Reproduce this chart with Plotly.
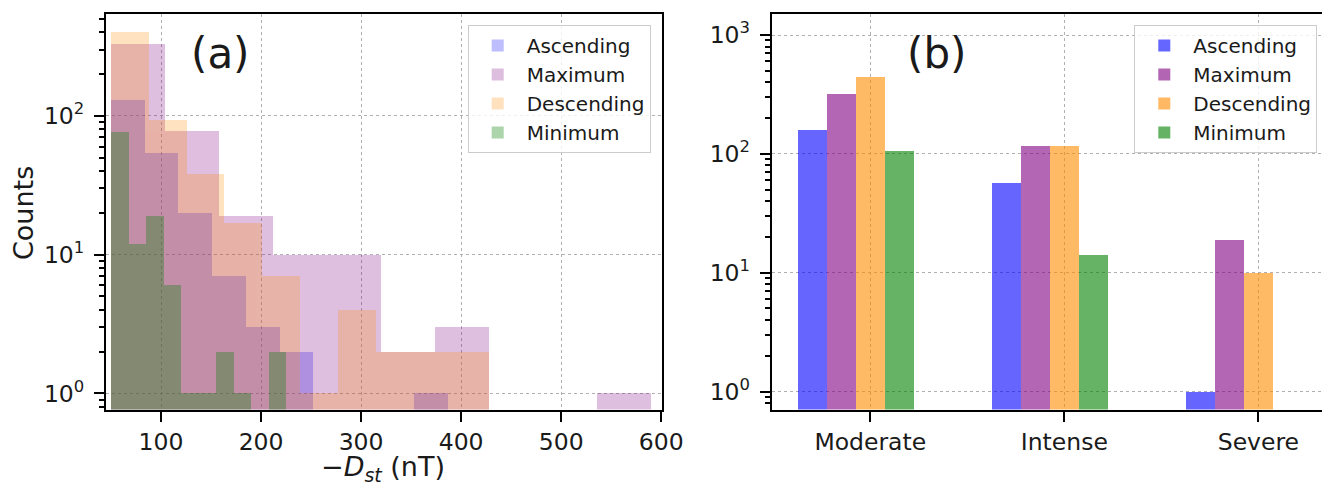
import plotly.graph_objects as go

# ---------------- data: panel (a) histograms ----------------
series_names = ["Ascending", "Maximum", "Descending", "Minimum"]

asc_edges = [50, 83.7, 117.4, 151.1, 184.8, 218.5, 252.2, 285.9, 319.6, 353.3, 387]
asc_counts = [130, 54, 20, 7, 3, 2, 0, 0, 0, 1]

max_edges = [50, 104, 158, 212, 266, 320, 374, 428, 482, 536, 590]
max_counts = [330, 78, 19, 10, 10, 2, 3, 0, 0, 1]

desc_edges = [50, 87.8, 125.6, 163.4, 201.2, 239, 276.8, 314.6, 352.4, 390.2, 428]
desc_counts = [400, 93, 38, 17, 7, 1, 4, 2, 2, 2]

min_edges = [50, 67.5, 85, 102.5, 120, 137.5, 155, 172.5, 190, 207.5, 225]
min_counts = [76, 12, 19, 6, 1, 1, 2, 1, 0, 2]

# ---------------- data: panel (b) grouped bars ----------------
categories = ["Moderate", "Intense", "Severe"]
asc_vals = [160, 57, 1]
max_vals = [320, 116, 19]
desc_vals = [440, 116, 10]
min_vals = [106, 14, 0]

# tick labels
x_ticks_a = [100, 200, 300, 400, 500, 600]
y_ticks_a = [1, 10, 100]
y_ticktext_a = ["10<sup>0</sup>", "10<sup>1</sup>", "10<sup>2</sup>"]
y_ticks_b = [1, 10, 100, 1000]
y_ticktext_b = ["10<sup>0</sup>", "10<sup>1</sup>", "10<sup>2</sup>", "10<sup>3</sup>"]

# ---------------- styling ----------------
FONT = "DejaVu Sans"
TXT = "#1a1a1a"
base_colors = ["#0000ff", "#800080", "#ff8c00", "#008000"]
hist_alpha = [0.25, 0.25, 0.25, 0.32]
bar_alpha = 0.6

# the page body adds an 8px margin, so the figure is 8px smaller and
# page coordinates are converted into figure coordinates
OFF = 8
W, H = 1330 - OFF, 484 - OFF


def px(x):
    return (x - OFF) / W


def py(y):
    return 1 - (y - OFF) / H


fig = go.Figure()

hist_data = [(asc_edges, asc_counts), (max_edges, max_counts),
             (desc_edges, desc_counts), (min_edges, min_counts)]

for name, (edges, counts), col, al in zip(series_names, hist_data, base_colors, hist_alpha):
    centers = [(edges[i] + edges[i + 1]) / 2 for i in range(len(counts))]
    widths = [edges[i + 1] - edges[i] for i in range(len(counts))]
    ys = [c if c > 0 else None for c in counts]
    fig.add_trace(go.Bar(
        x=centers, y=ys, width=widths, name=name,
        marker=dict(color=col, line=dict(width=0)), opacity=al,
        xaxis="x", yaxis="y", legend="legend", hoverinfo="skip",
    ))

bar_vals = [asc_vals, max_vals, desc_vals, min_vals]
bar_offsets = [-0.375, -0.225, -0.075, 0.075]
for name, vals, col, off in zip(series_names, bar_vals, base_colors, bar_offsets):
    fig.add_trace(go.Bar(
        x=categories, y=[v if v > 0 else None for v in vals], name=name,
        width=0.15, offset=off,
        marker=dict(color=col, line=dict(width=0)), opacity=bar_alpha,
        xaxis="x2", yaxis="y2", legend="legend2", hoverinfo="skip",
    ))

minor_log = [m * 10 ** k for k in range(-1, 4) for m in range(2, 10)]

axis_common = dict(
    automargin=False,
    showline=True, mirror=True, linecolor="black", linewidth=2,
    ticks="outside", ticklen=10, tickwidth=2, tickcolor="black",
    showgrid=True, gridcolor="#b0b0b0", gridwidth=1, griddash="3px,3px",
    zeroline=False, tickfont=dict(family=FONT, size=23.5, color=TXT),
)
minor_common = dict(tickmode="array", tickvals=minor_log, ticks="outside",
                    ticklen=5, tickwidth=1.5, tickcolor="black", showgrid=False)

ydom = [py(409.5), py(14)]

legend_common = dict(
    xanchor="right", yanchor="top",
    bgcolor="rgba(255,255,255,0.8)", bordercolor="#cccccc", borderwidth=1,
    font=dict(family=FONT, size=20, color=TXT),
    itemwidth=48, tracegroupgap=0,
)

fig.update_layout(
    width=W, height=H,
    margin=dict(l=0, r=0, t=0, b=0, autoexpand=False),
    paper_bgcolor="white", plot_bgcolor="white",
    barmode="overlay", bargap=0,
    font=dict(family=FONT, color=TXT),
    xaxis=dict(
        domain=[px(106), px(661.7)], anchor="y",
        range=[45, 600.5], tickmode="array", tickvals=x_ticks_a,
        ticklabelstandoff=0,
        **axis_common,
    ),
    yaxis=dict(
        domain=ydom, anchor="x", type="log",
        range=[-0.117, 2.735], tickmode="array",
        tickvals=y_ticks_a, ticktext=y_ticktext_a,
        ticklabelstandoff=5,
        minor=minor_common,
        **axis_common,
    ),
    xaxis2=dict(
        domain=[px(771.7), px(1326.7)], anchor="y2",
        type="category", range=[-0.508, 2.352],
        ticklabelstandoff=0,
        **axis_common,
    ),
    yaxis2=dict(
        domain=ydom, anchor="x2", type="log",
        range=[-0.151, 3.177], tickmode="array",
        tickvals=y_ticks_b, ticktext=y_ticktext_b,
        ticklabelstandoff=5,
        minor=minor_common,
        **axis_common,
    ),
    legend=dict(x=px(650.7), y=py(25), **legend_common),
    legend2=dict(x=px(1317.3), y=py(25), **legend_common),
    annotations=[
        dict(text="(a)", x=px(220.7), y=py(54), xref="paper", yref="paper",
             xanchor="center", yanchor="middle", showarrow=False,
             font=dict(family=FONT, size=42, color=TXT)),
        dict(text="(b)", x=px(936.7), y=py(53), xref="paper", yref="paper",
             xanchor="center", yanchor="middle", showarrow=False,
             font=dict(family=FONT, size=42, color=TXT)),
        # axis titles of panel (a)
        dict(text="Counts", textangle=-90, x=px(23), y=py(213),
             xref="paper", yref="paper", xanchor="center", yanchor="middle",
             showarrow=False, font=dict(family=FONT, size=27, color=TXT)),
        dict(text="\u2212<i>D<sub>st</sub></i> (nT)", x=px(383), y=py(468),
             xref="paper", yref="paper", xanchor="center", yanchor="middle",
             showarrow=False, font=dict(family=FONT, size=27, color=TXT)),
    ],
)

fig.write_html("out.html")
